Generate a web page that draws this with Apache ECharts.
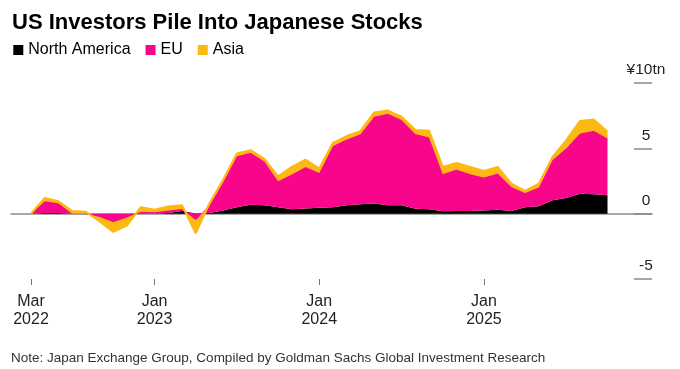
<!DOCTYPE html>
<html>
<head>
<meta charset="utf-8">
<script src="https://cdn.jsdelivr.net/npm/echarts@6/dist/echarts.min.js"></script>
<style>
html,body{margin:0;padding:0;background:#fff;}
#chart{width:680px;height:369px;}
</style>
</head>
<body>
<div id="chart"></div>
<script>
// Month-end observation months
const months = ['2022-03','2022-04','2022-05','2022-06','2022-07','2022-08','2022-09','2022-10','2022-11','2022-12',
  '2023-01','2023-02','2023-03','2023-04','2023-05','2023-06','2023-07','2023-08','2023-09','2023-10','2023-11','2023-12',
  '2024-01','2024-02','2024-03','2024-04','2024-05','2024-06','2024-07','2024-08','2024-09','2024-10','2024-11','2024-12',
  '2025-01','2025-02','2025-03','2025-04','2025-05','2025-06','2025-07','2025-08','2025-09'];
// Cumulative net purchases, ¥ trillion
const northAmerica = [0,0.05,0.05,0,0,0,0,0,0,0,0.05,0.2,0.02,0.05,0.25,0.5,0.68,0.65,0.5,0.33,0.4,0.45,0.5,0.65,0.72,0.77,0.64,0.64,0.38,0.33,0.18,0.2,0.2,0.25,0.3,0.2,0.5,0.56,1.02,1.2,1.53,1.48,1.41];
const eu = [0,0.9,0.75,0,0,-0.25,-0.65,-0.3,0.15,0.1,0.2,0.15,-0.5,0.55,2.15,3.9,3.98,3.35,1.98,2.67,3.18,2.67,4.67,5.03,5.35,6.65,7.0,6.53,5.71,5.5,2.84,3.18,2.82,2.51,2.77,1.84,1.08,1.44,3.08,3.8,4.61,4.87,4.35];
const asia = [0,0.25,0.15,0.2,0.15,-0.35,-0.75,-0.6,0.35,0.2,0.3,0.3,-1.0,0.2,0.2,0.2,0.2,0.2,0.38,0.58,0.56,0.33,0.25,0.26,0.25,0.33,0.25,0.25,0.31,0.52,0.56,0.51,0.56,0.51,0.51,0.26,0.16,0.3,0.25,0.63,0.96,0.85,0.51];
const seriesNames = ['North America','EU','Asia'];
// tick months (month-end points nearest to the labelled dates)
const tickMonths = ['2022-03','2022-12','2023-12','2024-12'];
const tickLabels = ['Mar\n2022','Jan\n2023','Jan\n2024','Jan\n2025'];
const yTicks = {min:-5, max:10, interval:5, unit:'¥10tn'};

const tickIdx = tickMonths.map(m => months.indexOf(m));
const colors = ['#000000','#f7068b','#fdb813'];
const FONT = 'Liberation Sans, Arial, sans-serif';

function mk(name, vals, idx){
  return {
    name, type:'line', stack:'total', symbol:'none', smooth:false,
    xAxisIndex:0, yAxisIndex:0,
    data: vals,
    lineStyle:{color:colors[idx], width: idx===2?2:(idx===1?1:0)},
    areaStyle:{color:colors[idx], opacity:1},
    itemStyle:{color:colors[idx]},
    z: 3+idx
  };
}

const showTick = (i) => tickIdx.indexOf(i) >= 0;

const chart = echarts.init(document.getElementById('chart'), null, {renderer:'canvas'});
chart.setOption({
  animation:false,
  backgroundColor:'#fff',
  textStyle:{fontFamily:FONT},
  title:{
    text:'US Investors Pile Into Japanese Stocks',
    left:7, top:7,
    textStyle:{fontFamily:FONT, fontWeight:'bold', fontSize:22, color:'#000'}
  },
  legend:{
    data:seriesNames, left:8.3, top:37, icon:'rect', itemWidth:10, itemHeight:10, itemGap:15,
    textStyle:{fontFamily:FONT, fontSize:16, color:'#000'},
    selectedMode:false
  },
  grid:[
    {left:31, right:72.5, top:83, bottom:90, containLabel:false, outerBoundsMode:'none'},
    {left:11, right:28, top:83, bottom:90, containLabel:false, outerBoundsMode:'none'}
  ],
  xAxis:[{
    gridIndex:0, type:'category', data:months, boundaryGap:false,
    axisLine:{show:false, onZero:false},
    axisTick:{show:true, interval:(i)=>showTick(i), length:6, lineStyle:{color:'#777', width:1}},
    axisLabel:{interval:(i)=>showTick(i), margin:13, fontFamily:FONT, fontSize:16, lineHeight:18.5, color:'#222', align:'center',
      formatter:function(v, i){const k = tickIdx.indexOf(i); return k>=0 ? tickLabels[k] : '';}},
    splitLine:{show:false}
  },{
    gridIndex:1, type:'value', min:0, max:1,
    axisLine:{show:true, onZero:true, lineStyle:{color:'#8a8a8a', width:1.5}},
    axisTick:{show:false}, axisLabel:{show:false}, splitLine:{show:false}
  }],
  yAxis:[{
    gridIndex:0, type:'value', min:yTicks.min, max:yTicks.max, interval:yTicks.interval, show:false
  },{
    gridIndex:1, type:'value', position:'right', min:yTicks.min, max:yTicks.max, interval:yTicks.interval,
    axisLine:{show:false, onZero:false},
    axisTick:{show:true, inside:true, length:18, lineStyle:{color:'#8a8a8a', width:1.5}},
    axisLabel:{inside:true, margin:6, align:'center', verticalAlign:'bottom', padding:[0,0,5,0],
      fontFamily:FONT, fontSize:15.5, color:'#222',
      formatter:function(v){return v===yTicks.max?yTicks.unit:String(v);}},
    splitLine:{show:false}
  }],
  series:[mk(seriesNames[0],northAmerica,0), mk(seriesNames[1],eu,1), mk(seriesNames[2],asia,2)],
  graphic:[{
    type:'text', left:11, top:351,
    style:{text:'Note: Japan Exchange Group, Compiled by Goldman Sachs Global Investment Research',
      font:'13.5px '+FONT, fill:'#333'}
  }]
});
</script>
</body>
</html>
